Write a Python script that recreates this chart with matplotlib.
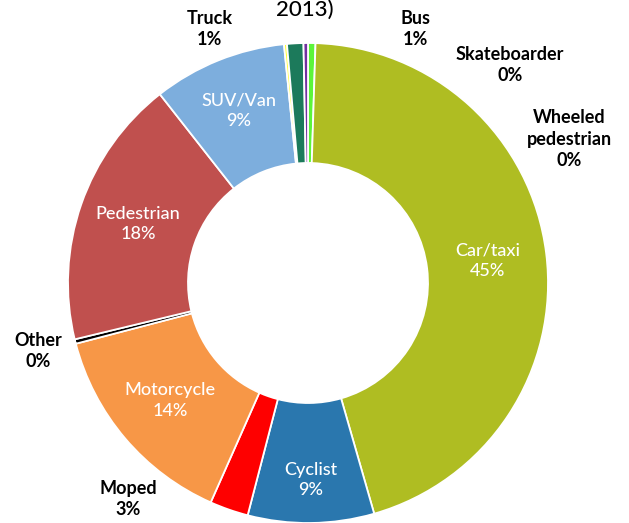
import matplotlib
matplotlib.use("Agg")
import matplotlib.pyplot as plt
import numpy as np

# slice data, in drawing order (clockwise from 12 o'clock)
modes = ['Bus', 'Car/taxi', 'Cyclist', 'Moped', 'Motorcycle', 'Other',
         'Pedestrian', 'SUV/Van', 'Skateboarder', 'Truck', 'Wheeled\npedestrian']
shares = [0.5, 45.1, 8.5, 2.6, 14.3, 0.3, 18.2, 9.0, 0.2, 1.1, 0.3]
pct_text = ['1%', '45%', '9%', '3%', '14%', '0%', '18%', '9%', '0%', '1%', '0%']
colors = ['#5cf53a', '#afbd22', '#2a77ae', '#fe0000', '#f79747', '#000000',
          '#c0504e', '#7daedd', '#ffff33', '#1c7a5b', '#7130a0']

W, H = 629, 523
fig = plt.figure(figsize=(W / 100, H / 100), dpi=100)
ax = fig.add_axes([0, 0, 1, 1])

cx, cy, R = 308, H - 283, 240
wedges, _ = ax.pie(shares, colors=colors, startangle=90, counterclock=False,
                   center=(cx, cy), radius=R, frame=True,
                   wedgeprops=dict(width=R * 0.5, edgecolor='white', linewidth=1.3))
ax.set_xlim(0, W)
ax.set_ylim(0, H)
ax.set_aspect('equal')
ax.axis('off')

plt.rcParams['font.family'] = ['Lato', 'DejaVu Sans']
fs = 13

# labels inside the ring (white), radius as fraction of R
inside_r = {'Car/taxi': 0.755, 'Cyclist': 0.82, 'Motorcycle': 0.755,
            'Pedestrian': 0.75, 'SUV/Van': 0.775}
# outside labels, pixel positions
outside_pos = {
    'Bus': (416, 29), 'Skateboarder': (510, 65), 'Wheeled\npedestrian': (569, 139),
    'Truck': (210, 29), 'Other': (38, 351), 'Moped': (128, 499),
}

for w, name, pct in zip(wedges, modes, pct_text):
    txt = f"{name}\n{pct}"
    if name in inside_r:
        ang = np.deg2rad((w.theta1 + w.theta2) / 2)
        r = R * inside_r[name]
        x, y = cx + r * np.cos(ang), cy + r * np.sin(ang)
        ax.text(x, y, txt, ha='center', va='center', color='white',
                fontsize=fs, fontweight='medium', linespacing=1.35)
    else:
        px, py = outside_pos[name]
        ax.text(px, H - py, txt, ha='center', va='center', color='black',
                fontsize=fs, fontweight='bold', linespacing=1.35)

# title, mostly cut off at the top of the image (as in the source)
ax.text(305, H - 16, '2013)', ha='center', va='baseline', fontsize=16,
        fontweight='medium', color='black')

fig.savefig('out.png', dpi=100)
